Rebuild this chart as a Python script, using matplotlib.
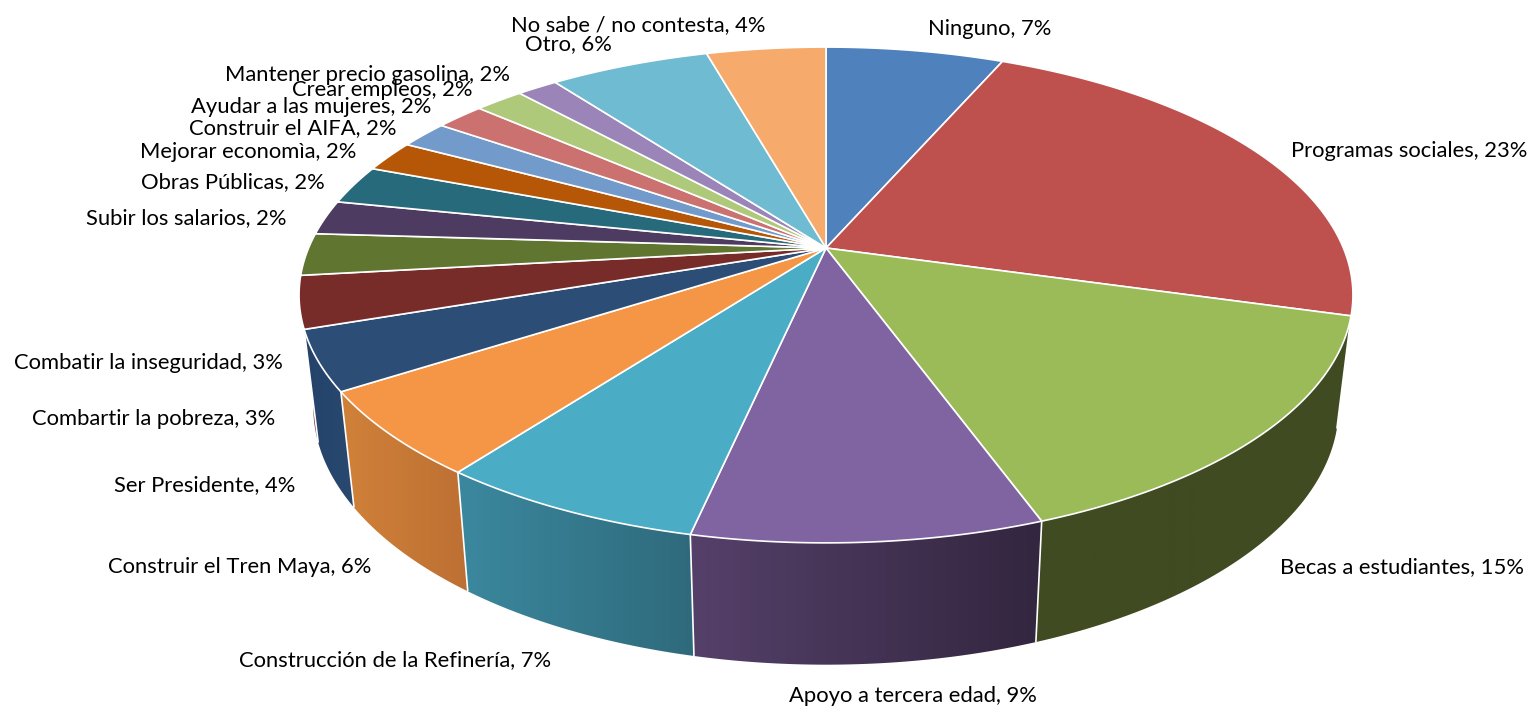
import numpy as np
import matplotlib
matplotlib.use("Agg")
import matplotlib.pyplot as plt
from matplotlib.colors import to_rgb
from matplotlib.patches import Polygon

categories = ["Ninguno", "Programas sociales", "Becas a estudiantes", "Apoyo a tercera edad",
              "Construcción de la Refinería", "Construir el Tren Maya", "Ser Presidente",
              "Combartir la pobreza", "Combatir la inseguridad", "Subir los salarios",
              "Obras Públicas", "Mejorar economìa", "Construir el AIFA", "Ayudar a las mujeres",
              "Crear empleos", "Mantener precio gasolina", "Otro", "No sabe / no contesta"]
shown_percent = [7, 23, 15, 9, 7, 6, 4, 3, 3, 2, 2, 2, 2, 2, 2, 2, 6, 4]
values = [6.56, 22.8, 15.1, 9.0, 6.9, 5.6, 3.9, 3.4, 2.75, 2.25, 2.55, 2.05, 1.8, 1.8, 1.8, 1.5, 5.9, 4.4]

top_colors = ["#4f81bd", "#be504e", "#9bbb59", "#8064a2", "#4bacc6", "#f49646", "#2c4d75", "#772c2a",
              "#5f7530", "#4d3b62", "#276a7c", "#b65708", "#729aca", "#cb7170", "#afc97a", "#9a84b8",
              "#6fbbd1", "#f6aa6c"]
# wall gradient per slice, (colour at image-left, colour at image-right)
wall_colors = {2: ("#404b22", "#404b22"), 3: ("#55406a", "#33263f"), 4: ("#3b889e", "#2f6a7c"),
               5: ("#d08139", "#bd7033"), 6: ("#24426a", "#29496f"), 7: ("#6a2a2a", "#6a2a2a")}

# label anchors in pixels (left edge, vertical centre)
label_xy = [(928, 29), (1291, 151), (1280, 567), (789, 696), (239, 660), (108, 567), (114, 485),
            (32, 419), (14, 363), (86, 218), (141, 182), (140, 152), (189, 128), (191, 107),
            (292, 90), (225, 75), (525, 44), (511, 25)]

W, H = 1531, 708
CX, CY = 826, 248      # pie apex
A, B, K = 517.4, 239.0, 0.1895   # perspective of the top face
SX, SY, Y0 = 0.973, 1.04, 358    # bottom rim relative to the top rim


def rim(theta_deg):
    t = np.radians(theta_deg)
    u, v = np.sin(t), np.cos(t)
    d = 1 + K * v
    return CX + A * u / d, CY - B * v / d


def lower(x, y):
    return CX + SX * (x - CX), Y0 + SY * (y - CY)


fig = plt.figure(figsize=(W / 100, H / 100), dpi=100)
ax = fig.add_axes([0, 0, 1, 1])

fractions = np.array(values) / sum(values)
edges = np.concatenate([[0], np.cumsum(fractions)]) * 360

# side wall, far pieces first; each is a horizontal gradient clipped to the wall outline
for i in sorted(wall_colors, key=lambda j: -abs(180 - (edges[j] + edges[j + 1]) / 2)):
    th = np.linspace(edges[i], edges[i + 1], 80)
    x, y = rim(th)
    xb, yb = lower(x, y)
    px, py = np.r_[x, xb[::-1]], np.r_[y, yb[::-1]]
    left, right = np.array(to_rgb(wall_colors[i][0])), np.array(to_rgb(wall_colors[i][1]))
    ramp = np.linspace(0, 1, 64)[:, None]
    grad = (left * (1 - ramp) + right * ramp)[None, :, :]
    im = ax.imshow(grad, extent=(px.min(), px.max(), py.max(), py.min()), aspect="auto",
                   interpolation="bilinear", zorder=2)
    im.set_clip_path(Polygon(np.c_[px, py], closed=True, transform=ax.transData))

for e in edges[2:8]:
    x, y = rim(np.array([e]))
    xb, yb = lower(x, y)
    ax.plot([x[0], xb[0]], [y[0], yb[0]], color="white", lw=1.2, zorder=3, solid_capstyle="butt")

# top face
for i in range(len(values)):
    th = np.linspace(edges[i], edges[i + 1], 80)
    x, y = rim(th)
    ax.fill(np.r_[CX, x], np.r_[CY, y], facecolor=top_colors[i], edgecolor="white", lw=1.2,
            joinstyle="round", zorder=4)

for name, pct, (lx, ly) in zip(categories, shown_percent, label_xy):
    ax.text(lx, ly, f"{name}, {pct}%", ha="left", va="center", fontsize=15.85,
            family=["Lato", "DejaVu Sans"], color="black", zorder=6)

ax.set_xlim(0, W)
ax.set_ylim(H, 0)
ax.axis("off")

fig.savefig("out.png", dpi=100, facecolor="white")
